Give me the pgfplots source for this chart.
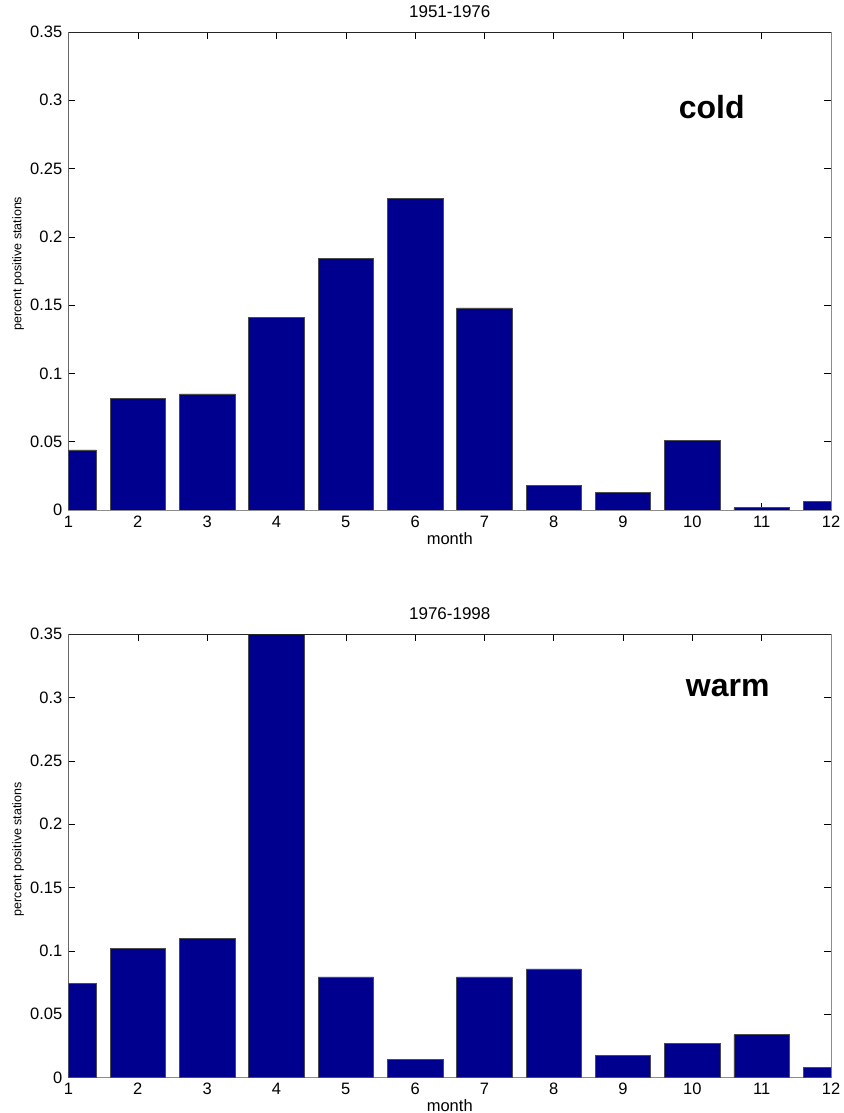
\documentclass[border=0pt]{standalone}
\usepackage{pgfplots}
\usepackage{pgfplotstable}
\pgfplotsset{compat=1.18}
\usepackage{fontspec}
\setmainfont{Liberation Sans}
\definecolor{barblue}{RGB}{0,0,143}

% share of stations with a positive trend, by month
\pgfplotstableread{
month value
1  0.044
2  0.082
3  0.085
4  0.141
5  0.184
6  0.228
7  0.148
8  0.018
9  0.013
10 0.051
11 0.0017
12 0.006
}\coldtable

\pgfplotstableread{
month value
1  0.0744
2  0.1018
3  0.110
4  0.360
5  0.0794
6  0.0145
7  0.0794
8  0.0857
9  0.0175
10 0.027
11 0.0339
12 0.0079
}\warmtable

\tikzset{
  monthbar/.style={fill=barblue, draw=black!70, line width=0.6pt},
  darkedges/.style={black!85, line width=0.7pt},
}

\begin{document}
\begin{tikzpicture}
\path[use as bounding box] (0pt,0pt) rectangle (843pt,1113pt);
\pgfplotsset{
  monthbars/.style={
    scale only axis, width=762.5pt, anchor=south west,
    xmin=1, xmax=12, ymin=0, ymax=0.35,
    ybar, bar width=0.8,
    xtick={1,2,3,4,5,6,7,8,9,10,11,12},
    ytick={0,0.05,0.1,0.15,0.2,0.25,0.3,0.35},
    scaled y ticks=false,
    /pgf/number format/assume math mode=true,
    yticklabel style={/pgf/number format/fixed, /pgf/number format/precision=2},
    ticklabel style={font=\fontsize{16.5}{19}\selectfont, inner sep=0pt},
    xticklabel style={anchor=north, yshift=-5.5pt},
    yticklabel style={anchor=east, xshift=-6pt},
    tick align=inside, major tick length=7pt,
    tick style={black, line width=0.5pt},
    axis line style={black!45, line width=0.7pt},
    title style={font=\fontsize{17}{20}\selectfont, inner sep=0pt, yshift=8pt},
    xlabel={month},
    xlabel style={font=\fontsize{16.5}{19}\selectfont, at={(axis description cs:0.5,0)}, anchor=north, yshift=-22pt, inner sep=0pt},
    ylabel={percent positive stations},
    ylabel style={font=\fontsize{12.5}{15}\selectfont, at={(axis description cs:-0.058,0.515)}, anchor=south, inner sep=0pt},
  },
}

% 1951-1976
\begin{axis}[monthbars, at={(68.5pt,603pt)}, height=478pt, title={1951-1976}]
\addplot[monthbar] table[x=month, y=value] {\coldtable};
\draw[darkedges] (rel axis cs:0,0) -- (rel axis cs:0,1) -- (rel axis cs:1,1);
\node[font=\bfseries\fontsize{32}{36}\selectfont] at (axis cs:10.28,0.2953) {cold};
\end{axis}

% 1976-1998
\begin{axis}[monthbars, at={(68.5pt,35.5pt)}, height=443.2pt, title={1976-1998}]
\addplot[monthbar] table[x=month, y=value] {\warmtable};
\draw[darkedges] (rel axis cs:0,0) -- (rel axis cs:0,1) -- (rel axis cs:1,1);
\node[font=\bfseries\fontsize{32}{36}\selectfont] at (axis cs:10.51,0.3077) {warm};
\end{axis}
\end{tikzpicture}
\end{document}
